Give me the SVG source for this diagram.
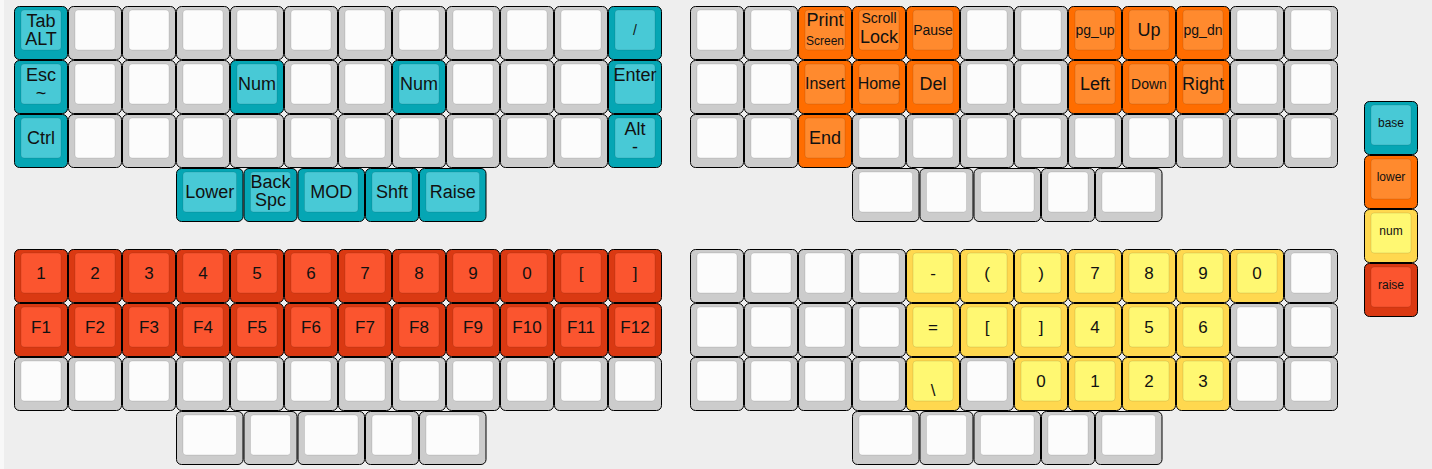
<svg xmlns="http://www.w3.org/2000/svg" xmlns:xlink="http://www.w3.org/1999/xlink" width="1432" height="469" viewBox="0 0 1432 469">
<style>
.o{stroke:#000;stroke-width:1}
.i{stroke:rgba(0,0,0,.1);stroke-width:1}
.b .o{fill:#05a6b4}.b .i{fill:#48c9d6}
.l .o{fill:#ff6d00}.l .i{fill:#ff8a2e}
.n .o{fill:#ffd84f}.n .i{fill:#fff872}
.r .o{fill:#da3912}.r .i{fill:#fb552f}
.w .o{fill:#cccccc}.w .i{fill:#fcfcfc}
text{font-family:"Liberation Sans",Arial,Helvetica,sans-serif;font-size:18px;fill:#111;text-anchor:middle}
.s12{font-size:12px}.s14{font-size:14px}.s16{font-size:16px}.s17{font-size:17px}
</style>
<defs>
<g id="kb" class="b"><rect class="o" x=".5" y=".5" width="53" height="53" rx="5"/><rect class="i" x="7" y="4" width="40" height="40" rx="3"/></g>
<g id="kbW" class="b"><rect class="o" x=".5" y=".5" width="66.5" height="53" rx="5"/><rect class="i" x="7" y="4" width="53.5" height="40" rx="3"/></g>
<g id="kl" class="l"><rect class="o" x=".5" y=".5" width="53" height="53" rx="5"/><rect class="i" x="7" y="4" width="40" height="40" rx="3"/></g>
<g id="kn" class="n"><rect class="o" x=".5" y=".5" width="53" height="53" rx="5"/><rect class="i" x="7" y="4" width="40" height="40" rx="3"/></g>
<g id="kr" class="r"><rect class="o" x=".5" y=".5" width="53" height="53" rx="5"/><rect class="i" x="7" y="4" width="40" height="40" rx="3"/></g>
<g id="kw" class="w"><rect class="o" x=".5" y=".5" width="53" height="53" rx="5"/><rect class="i" x="7" y="4" width="40" height="40" rx="3"/></g>
<g id="kwW" class="w"><rect class="o" x=".5" y=".5" width="66.5" height="53" rx="5"/><rect class="i" x="7" y="4" width="53.5" height="40" rx="3"/></g>
</defs>
<rect x="0" y="0" width="1432" height="469" fill="#eeeeee"/>
<rect x="0" y="0" width="4" height="469" fill="#f8f8f8"/>

<g id="top-left">
<g id="tl-0-0"><use href="#kb" x="14" y="6"/><text x="41" y="27">Tab</text><text x="41" y="44.5">ALT</text></g>
<g id="tl-0-1"><use href="#kw" x="68" y="6"/></g>
<g id="tl-0-2"><use href="#kw" x="122" y="6"/></g>
<g id="tl-0-3"><use href="#kw" x="176" y="6"/></g>
<g id="tl-0-4"><use href="#kw" x="230" y="6"/></g>
<g id="tl-0-5"><use href="#kw" x="284" y="6"/></g>
<g id="tl-0-6"><use href="#kw" x="338" y="6"/></g>
<g id="tl-0-7"><use href="#kw" x="392" y="6"/></g>
<g id="tl-0-8"><use href="#kw" x="446" y="6"/></g>
<g id="tl-0-9"><use href="#kw" x="500" y="6"/></g>
<g id="tl-0-10"><use href="#kw" x="554" y="6"/></g>
<g id="tl-0-11"><use href="#kb" x="608" y="6"/><text class="s14" x="635" y="35">/</text></g>
<g id="tl-1-0"><use href="#kb" x="14" y="60"/><text x="41" y="81">Esc</text><text x="41" y="98.5">~</text></g>
<g id="tl-1-1"><use href="#kw" x="68" y="60"/></g>
<g id="tl-1-2"><use href="#kw" x="122" y="60"/></g>
<g id="tl-1-3"><use href="#kw" x="176" y="60"/></g>
<g id="tl-1-4"><use href="#kb" x="230" y="60"/><text x="257" y="90">Num</text></g>
<g id="tl-1-5"><use href="#kw" x="284" y="60"/></g>
<g id="tl-1-6"><use href="#kw" x="338" y="60"/></g>
<g id="tl-1-7"><use href="#kb" x="392" y="60"/><text x="419" y="90">Num</text></g>
<g id="tl-1-8"><use href="#kw" x="446" y="60"/></g>
<g id="tl-1-9"><use href="#kw" x="500" y="60"/></g>
<g id="tl-1-10"><use href="#kw" x="554" y="60"/></g>
<g id="tl-1-11"><use href="#kb" x="608" y="60"/><text x="635" y="81">Enter</text></g>
<g id="tl-2-0"><use href="#kb" x="14" y="114"/><text x="41" y="144">Ctrl</text></g>
<g id="tl-2-1"><use href="#kw" x="68" y="114"/></g>
<g id="tl-2-2"><use href="#kw" x="122" y="114"/></g>
<g id="tl-2-3"><use href="#kw" x="176" y="114"/></g>
<g id="tl-2-4"><use href="#kw" x="230" y="114"/></g>
<g id="tl-2-5"><use href="#kw" x="284" y="114"/></g>
<g id="tl-2-6"><use href="#kw" x="338" y="114"/></g>
<g id="tl-2-7"><use href="#kw" x="392" y="114"/></g>
<g id="tl-2-8"><use href="#kw" x="446" y="114"/></g>
<g id="tl-2-9"><use href="#kw" x="500" y="114"/></g>
<g id="tl-2-10"><use href="#kw" x="554" y="114"/></g>
<g id="tl-2-11"><use href="#kb" x="608" y="114"/><text x="635" y="135">Alt</text><text x="635" y="152.5">-</text></g>
<g id="tl-3-0"><use href="#kbW" x="176" y="168"/><text x="209.75" y="198">Lower</text></g>
<g id="tl-3-1"><use href="#kb" x="243.5" y="168"/><text x="270.5" y="188">Back</text><text x="270.5" y="205.5">Spc</text></g>
<g id="tl-3-2"><use href="#kbW" x="297.5" y="168"/><text x="331.25" y="198">MOD</text></g>
<g id="tl-3-3"><use href="#kb" x="365" y="168"/><text x="392" y="198">Shft</text></g>
<g id="tl-3-4"><use href="#kbW" x="419" y="168"/><text x="452.75" y="198">Raise</text></g>
</g>

<g id="top-right">
<g id="tr-0-0"><use href="#kw" x="690" y="6"/></g>
<g id="tr-0-1"><use href="#kw" x="744" y="6"/></g>
<g id="tr-0-2"><use href="#kl" x="798" y="6"/><text x="825" y="26">Print</text><text class="s12" x="825" y="45">Screen</text></g>
<g id="tr-0-3"><use href="#kl" x="852" y="6"/><text class="s14" x="879" y="23">Scroll</text><text x="879" y="43">Lock</text></g>
<g id="tr-0-4"><use href="#kl" x="906" y="6"/><text class="s14" x="933" y="35">Pause</text></g>
<g id="tr-0-5"><use href="#kw" x="960" y="6"/></g>
<g id="tr-0-6"><use href="#kw" x="1014" y="6"/></g>
<g id="tr-0-7"><use href="#kl" x="1068" y="6"/><text class="s14" x="1095" y="35">pg_up</text></g>
<g id="tr-0-8"><use href="#kl" x="1122" y="6"/><text x="1149" y="36">Up</text></g>
<g id="tr-0-9"><use href="#kl" x="1176" y="6"/><text class="s14" x="1203" y="35">pg_dn</text></g>
<g id="tr-0-10"><use href="#kw" x="1230" y="6"/></g>
<g id="tr-0-11"><use href="#kw" x="1284" y="6"/></g>
<g id="tr-1-0"><use href="#kw" x="690" y="60"/></g>
<g id="tr-1-1"><use href="#kw" x="744" y="60"/></g>
<g id="tr-1-2"><use href="#kl" x="798" y="60"/><text class="s16" x="825" y="89">Insert</text></g>
<g id="tr-1-3"><use href="#kl" x="852" y="60"/><text class="s16" x="879" y="89">Home</text></g>
<g id="tr-1-4"><use href="#kl" x="906" y="60"/><text x="933" y="90">Del</text></g>
<g id="tr-1-5"><use href="#kw" x="960" y="60"/></g>
<g id="tr-1-6"><use href="#kw" x="1014" y="60"/></g>
<g id="tr-1-7"><use href="#kl" x="1068" y="60"/><text x="1095" y="90">Left</text></g>
<g id="tr-1-8"><use href="#kl" x="1122" y="60"/><text class="s14" x="1149" y="89">Down</text></g>
<g id="tr-1-9"><use href="#kl" x="1176" y="60"/><text x="1203" y="90">Right</text></g>
<g id="tr-1-10"><use href="#kw" x="1230" y="60"/></g>
<g id="tr-1-11"><use href="#kw" x="1284" y="60"/></g>
<g id="tr-2-0"><use href="#kw" x="690" y="114"/></g>
<g id="tr-2-1"><use href="#kw" x="744" y="114"/></g>
<g id="tr-2-2"><use href="#kl" x="798" y="114"/><text x="825" y="144">End</text></g>
<g id="tr-2-3"><use href="#kw" x="852" y="114"/></g>
<g id="tr-2-4"><use href="#kw" x="906" y="114"/></g>
<g id="tr-2-5"><use href="#kw" x="960" y="114"/></g>
<g id="tr-2-6"><use href="#kw" x="1014" y="114"/></g>
<g id="tr-2-7"><use href="#kw" x="1068" y="114"/></g>
<g id="tr-2-8"><use href="#kw" x="1122" y="114"/></g>
<g id="tr-2-9"><use href="#kw" x="1176" y="114"/></g>
<g id="tr-2-10"><use href="#kw" x="1230" y="114"/></g>
<g id="tr-2-11"><use href="#kw" x="1284" y="114"/></g>
<g id="tr-3-0"><use href="#kwW" x="852" y="168"/></g>
<g id="tr-3-1"><use href="#kw" x="919.5" y="168"/></g>
<g id="tr-3-2"><use href="#kwW" x="973.5" y="168"/></g>
<g id="tr-3-3"><use href="#kw" x="1041" y="168"/></g>
<g id="tr-3-4"><use href="#kwW" x="1095" y="168"/></g>
</g>

<g id="bottom-left">
<g id="bl-0-0"><use href="#kr" x="14" y="249"/><text class="s17" x="41" y="279">1</text></g>
<g id="bl-0-1"><use href="#kr" x="68" y="249"/><text class="s17" x="95" y="279">2</text></g>
<g id="bl-0-2"><use href="#kr" x="122" y="249"/><text class="s17" x="149" y="279">3</text></g>
<g id="bl-0-3"><use href="#kr" x="176" y="249"/><text class="s17" x="203" y="279">4</text></g>
<g id="bl-0-4"><use href="#kr" x="230" y="249"/><text class="s17" x="257" y="279">5</text></g>
<g id="bl-0-5"><use href="#kr" x="284" y="249"/><text class="s17" x="311" y="279">6</text></g>
<g id="bl-0-6"><use href="#kr" x="338" y="249"/><text class="s17" x="365" y="279">7</text></g>
<g id="bl-0-7"><use href="#kr" x="392" y="249"/><text class="s17" x="419" y="279">8</text></g>
<g id="bl-0-8"><use href="#kr" x="446" y="249"/><text class="s17" x="473" y="279">9</text></g>
<g id="bl-0-9"><use href="#kr" x="500" y="249"/><text class="s17" x="527" y="279">0</text></g>
<g id="bl-0-10"><use href="#kr" x="554" y="249"/><text class="s17" x="581" y="279">[</text></g>
<g id="bl-0-11"><use href="#kr" x="608" y="249"/><text class="s17" x="635" y="279">]</text></g>
<g id="bl-1-0"><use href="#kr" x="14" y="303"/><text class="s17" x="41" y="333">F1</text></g>
<g id="bl-1-1"><use href="#kr" x="68" y="303"/><text class="s17" x="95" y="333">F2</text></g>
<g id="bl-1-2"><use href="#kr" x="122" y="303"/><text class="s17" x="149" y="333">F3</text></g>
<g id="bl-1-3"><use href="#kr" x="176" y="303"/><text class="s17" x="203" y="333">F4</text></g>
<g id="bl-1-4"><use href="#kr" x="230" y="303"/><text class="s17" x="257" y="333">F5</text></g>
<g id="bl-1-5"><use href="#kr" x="284" y="303"/><text class="s17" x="311" y="333">F6</text></g>
<g id="bl-1-6"><use href="#kr" x="338" y="303"/><text class="s17" x="365" y="333">F7</text></g>
<g id="bl-1-7"><use href="#kr" x="392" y="303"/><text class="s17" x="419" y="333">F8</text></g>
<g id="bl-1-8"><use href="#kr" x="446" y="303"/><text class="s17" x="473" y="333">F9</text></g>
<g id="bl-1-9"><use href="#kr" x="500" y="303"/><text class="s17" x="527" y="333">F10</text></g>
<g id="bl-1-10"><use href="#kr" x="554" y="303"/><text class="s17" x="581" y="333">F11</text></g>
<g id="bl-1-11"><use href="#kr" x="608" y="303"/><text class="s17" x="635" y="333">F12</text></g>
<g id="bl-2-0"><use href="#kw" x="14" y="357"/></g>
<g id="bl-2-1"><use href="#kw" x="68" y="357"/></g>
<g id="bl-2-2"><use href="#kw" x="122" y="357"/></g>
<g id="bl-2-3"><use href="#kw" x="176" y="357"/></g>
<g id="bl-2-4"><use href="#kw" x="230" y="357"/></g>
<g id="bl-2-5"><use href="#kw" x="284" y="357"/></g>
<g id="bl-2-6"><use href="#kw" x="338" y="357"/></g>
<g id="bl-2-7"><use href="#kw" x="392" y="357"/></g>
<g id="bl-2-8"><use href="#kw" x="446" y="357"/></g>
<g id="bl-2-9"><use href="#kw" x="500" y="357"/></g>
<g id="bl-2-10"><use href="#kw" x="554" y="357"/></g>
<g id="bl-2-11"><use href="#kw" x="608" y="357"/></g>
<g id="bl-3-0"><use href="#kwW" x="176" y="411"/></g>
<g id="bl-3-1"><use href="#kw" x="243.5" y="411"/></g>
<g id="bl-3-2"><use href="#kwW" x="297.5" y="411"/></g>
<g id="bl-3-3"><use href="#kw" x="365" y="411"/></g>
<g id="bl-3-4"><use href="#kwW" x="419" y="411"/></g>
</g>

<g id="bottom-right">
<g id="br-0-0"><use href="#kw" x="690" y="249"/></g>
<g id="br-0-1"><use href="#kw" x="744" y="249"/></g>
<g id="br-0-2"><use href="#kw" x="798" y="249"/></g>
<g id="br-0-3"><use href="#kw" x="852" y="249"/></g>
<g id="br-0-4"><use href="#kn" x="906" y="249"/><text class="s17" x="933" y="279">-</text></g>
<g id="br-0-5"><use href="#kn" x="960" y="249"/><text class="s17" x="987" y="279">(</text></g>
<g id="br-0-6"><use href="#kn" x="1014" y="249"/><text class="s17" x="1041" y="279">)</text></g>
<g id="br-0-7"><use href="#kn" x="1068" y="249"/><text class="s17" x="1095" y="279">7</text></g>
<g id="br-0-8"><use href="#kn" x="1122" y="249"/><text class="s17" x="1149" y="279">8</text></g>
<g id="br-0-9"><use href="#kn" x="1176" y="249"/><text class="s17" x="1203" y="279">9</text></g>
<g id="br-0-10"><use href="#kn" x="1230" y="249"/><text class="s17" x="1257" y="279">0</text></g>
<g id="br-0-11"><use href="#kw" x="1284" y="249"/></g>
<g id="br-1-0"><use href="#kw" x="690" y="303"/></g>
<g id="br-1-1"><use href="#kw" x="744" y="303"/></g>
<g id="br-1-2"><use href="#kw" x="798" y="303"/></g>
<g id="br-1-3"><use href="#kw" x="852" y="303"/></g>
<g id="br-1-4"><use href="#kn" x="906" y="303"/><text class="s17" x="933" y="333">=</text></g>
<g id="br-1-5"><use href="#kn" x="960" y="303"/><text class="s17" x="987" y="333">[</text></g>
<g id="br-1-6"><use href="#kn" x="1014" y="303"/><text class="s17" x="1041" y="333">]</text></g>
<g id="br-1-7"><use href="#kn" x="1068" y="303"/><text class="s17" x="1095" y="333">4</text></g>
<g id="br-1-8"><use href="#kn" x="1122" y="303"/><text class="s17" x="1149" y="333">5</text></g>
<g id="br-1-9"><use href="#kn" x="1176" y="303"/><text class="s17" x="1203" y="333">6</text></g>
<g id="br-1-10"><use href="#kw" x="1230" y="303"/></g>
<g id="br-1-11"><use href="#kw" x="1284" y="303"/></g>
<g id="br-2-0"><use href="#kw" x="690" y="357"/></g>
<g id="br-2-1"><use href="#kw" x="744" y="357"/></g>
<g id="br-2-2"><use href="#kw" x="798" y="357"/></g>
<g id="br-2-3"><use href="#kw" x="852" y="357"/></g>
<g id="br-2-4"><use href="#kn" x="906" y="357"/><text class="s17" x="933" y="395.5">\</text></g>
<g id="br-2-5"><use href="#kw" x="960" y="357"/></g>
<g id="br-2-6"><use href="#kn" x="1014" y="357"/><text class="s17" x="1041" y="387">0</text></g>
<g id="br-2-7"><use href="#kn" x="1068" y="357"/><text class="s17" x="1095" y="387">1</text></g>
<g id="br-2-8"><use href="#kn" x="1122" y="357"/><text class="s17" x="1149" y="387">2</text></g>
<g id="br-2-9"><use href="#kn" x="1176" y="357"/><text class="s17" x="1203" y="387">3</text></g>
<g id="br-2-10"><use href="#kw" x="1230" y="357"/></g>
<g id="br-2-11"><use href="#kw" x="1284" y="357"/></g>
<g id="br-3-0"><use href="#kwW" x="852" y="411"/></g>
<g id="br-3-1"><use href="#kw" x="919.5" y="411"/></g>
<g id="br-3-2"><use href="#kwW" x="973.5" y="411"/></g>
<g id="br-3-3"><use href="#kw" x="1041" y="411"/></g>
<g id="br-3-4"><use href="#kwW" x="1095" y="411"/></g>
</g>

<g id="legend">
<g id="lg-base"><use href="#kb" x="1364" y="101"/><text class="s12" x="1391" y="127">base</text></g>
<g id="lg-lower"><use href="#kl" x="1364" y="155"/><text class="s12" x="1391" y="181">lower</text></g>
<g id="lg-num"><use href="#kn" x="1364" y="209"/><text class="s12" x="1391" y="235">num</text></g>
<g id="lg-raise"><use href="#kr" x="1364" y="263"/><text class="s12" x="1391" y="289">raise</text></g>
</g>

<g id="connectors"/>
</svg>
